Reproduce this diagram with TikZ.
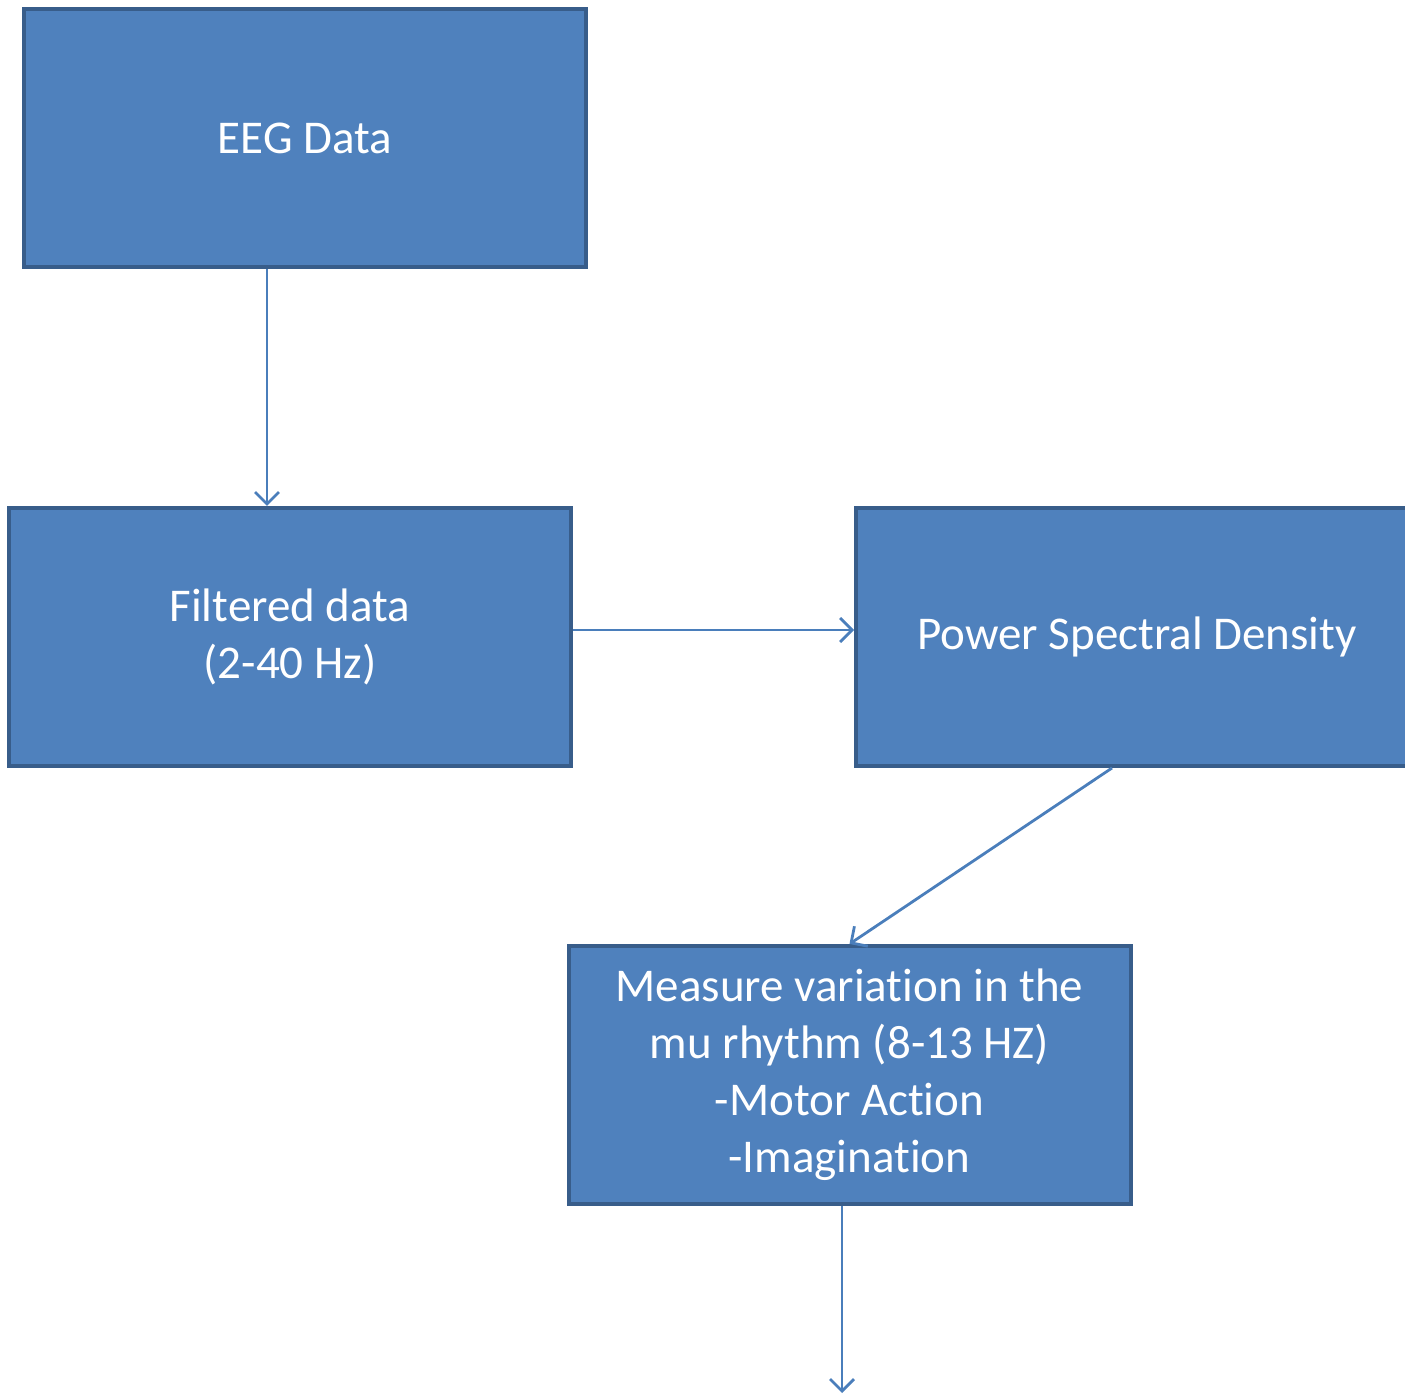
\documentclass[tikz,border=0pt]{standalone}
\usepackage{fontspec}
\setmainfont{Carlito}[Ligatures={NoCommon, NoRare, NoContextual}]
\usepackage{tikz}
\definecolor{boxblue}{HTML}{4F81BD}
\definecolor{edgeblue}{HTML}{385D8A}
\definecolor{lineblue}{HTML}{4A7EBB}
\usetikzlibrary{arrows, arrows.meta, positioning, shapes}
\tikzstyle{block} = [draw=edgeblue, line width=2pt, fill=boxblue, rectangle, minimum height=129pt, minimum width=281pt, text=white, align=center, font=\fontsize{23.5}{28.5}\selectfont]
\tikzstyle{arrow} = [arrows={-Straight Barb[length=6pt, width=12pt]}, lineblue, line width=1.4pt]

\begin{document}
\begin{tikzpicture}[x=0.5pt, y=-0.5pt]
    \useasboundingbox (0,0) rectangle (1405,1395);
    \begin{scope}
    \clip (0,0) rectangle (1405,1395);
    % Place the blocks
    \node [block] (eeg) at (305,138) {EEG Data};
    \node [block] (filt) at (290,637) {Filtered data\\(2-40 Hz)};
    \node [block] (psd) at (1137,637) {Power Spectral Density};
    \node [block] (mu) at (849.5,1075) {Measure variation in the\\mu rhythm (8-13 HZ)\\-Motor Action\\-Imagination};
    \coordinate (out) at (842,1393);
    \end{scope}

    % Connect the nodes
    \draw [arrow] ([xshift=-19pt]eeg.south) -- ([xshift=-19pt]eeg.south |- filt.north);
    \draw [arrow] ([yshift=3.5pt]filt.east) -- ([yshift=3.5pt]filt.east -| psd.west);
    \draw [arrow] ([xshift=-12.5pt]psd.south) -- (mu.north);
    \draw [arrow] ([xshift=-3.75pt]mu.south) -- (out);
\end{tikzpicture}
\end{document}
